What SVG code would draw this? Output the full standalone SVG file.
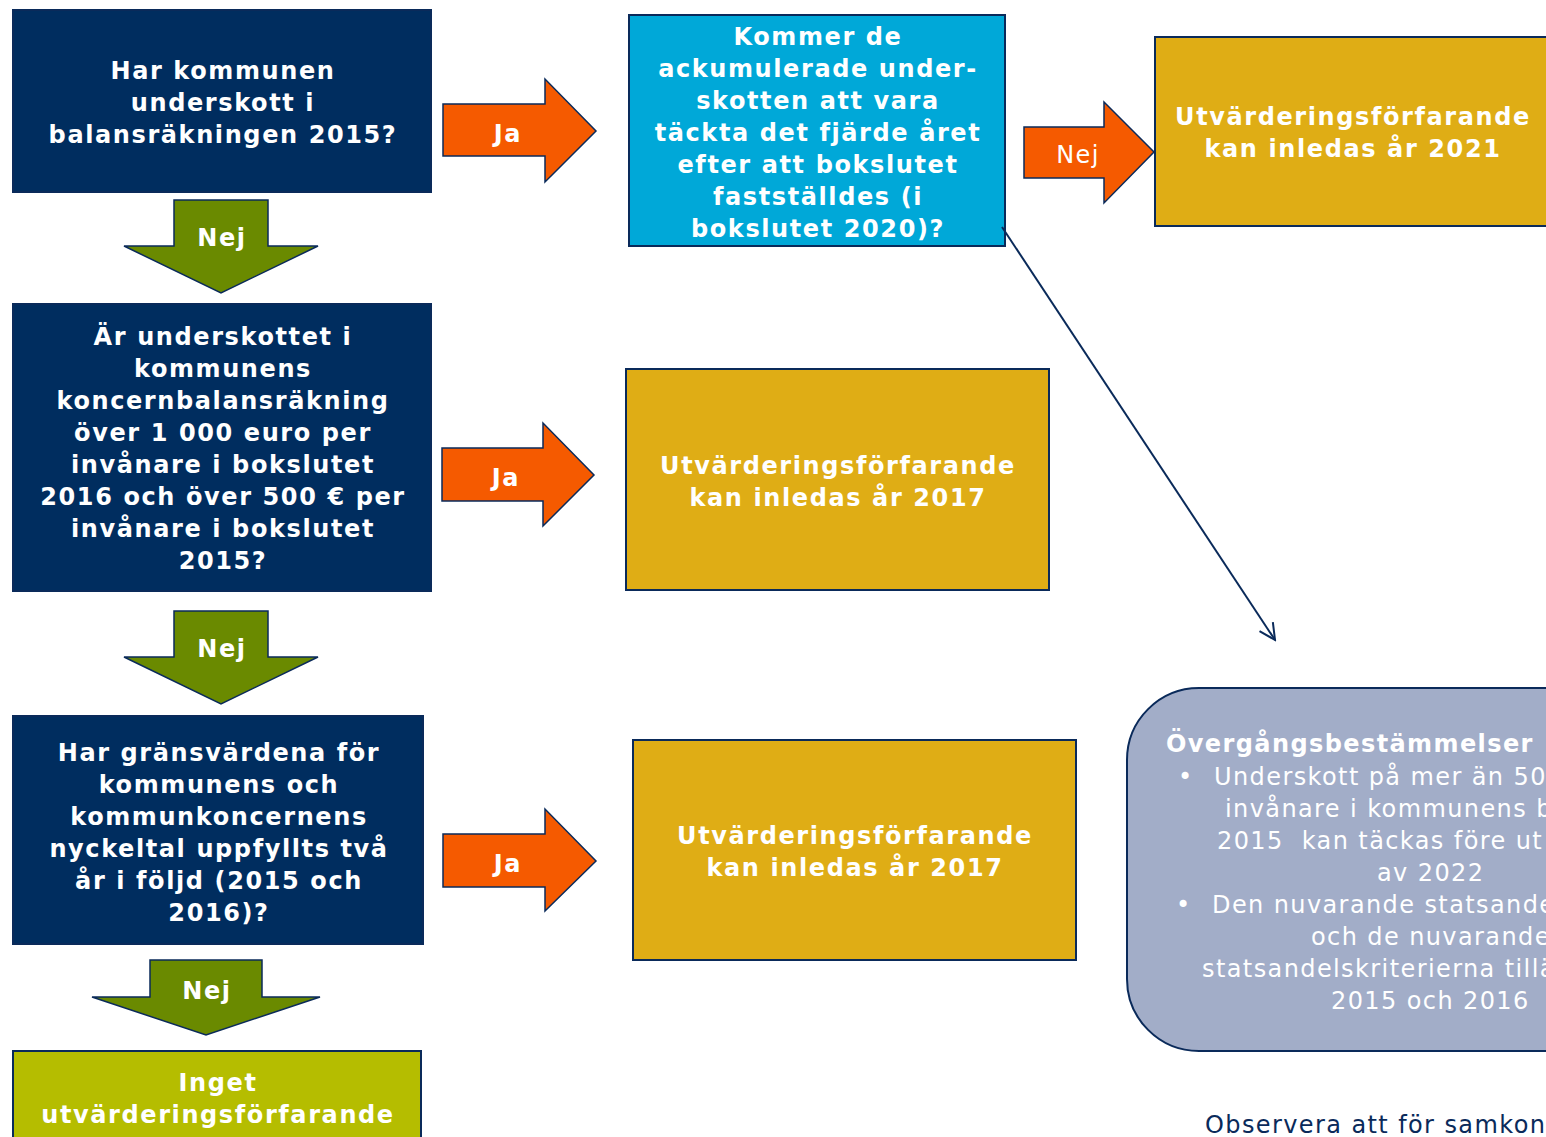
<svg xmlns="http://www.w3.org/2000/svg" width="1546" height="1137" viewBox="0 0 1546 1137">
<defs>
<style>
.t{font-family:"DejaVu Sans","Liberation Sans",sans-serif;font-size:24px;fill:#fff;text-anchor:middle;letter-spacing:1.4px}
.b{font-weight:bold;letter-spacing:1.6px}
.box{stroke:#0A2A5A;stroke-width:2}
.navy{fill:#002D5F}
.gold{fill:#DFAD15}
.arrowO{fill:#F55A00;stroke:#0A2A5A;stroke-width:1.5;stroke-linejoin:miter}
.arrowG{fill:#6A8A00;stroke:#0A2A5A;stroke-width:1.5}
.n{font-family:"DejaVu Sans","Liberation Sans",sans-serif;font-size:24px;fill:#fff;letter-spacing:1.4px}
</style>
<marker id="open" viewBox="0 0 20 20" refX="18" refY="10" markerWidth="20" markerHeight="20" markerUnits="userSpaceOnUse" orient="auto">
<path d="M2,2 L18,10 L2,18" fill="none" stroke="#0A2A5A" stroke-width="2"/>
</marker>
</defs>
<rect width="1546" height="1137" fill="#fff"/>

<g id="q1">
<rect class="box navy" x="13" y="10" width="418" height="182"/>
<text class="t b"><tspan x="223" y="79">Har kommunen</tspan><tspan x="223" y="111">underskott i</tspan><tspan x="223" y="143">balansräkningen 2015?</tspan></text>
</g>

<g id="q2">
<rect class="box navy" x="13" y="304" width="418" height="287"/>
<text class="t b"><tspan x="223" y="345">Är underskottet i</tspan><tspan x="223" y="377">kommunens</tspan><tspan x="223" y="409">koncernbalansräkning</tspan><tspan x="223" y="441">över 1 000 euro per</tspan><tspan x="223" y="473">invånare i bokslutet</tspan><tspan x="223" y="505">2016 och över 500 € per</tspan><tspan x="223" y="537">invånare i bokslutet</tspan><tspan x="223" y="569">2015?</tspan></text>
</g>

<g id="q3">
<rect class="box navy" x="13" y="716" width="410" height="228"/>
<text class="t b"><tspan x="219" y="761">Har gränsvärdena för</tspan><tspan x="219" y="793">kommunens och</tspan><tspan x="219" y="825">kommunkoncernens</tspan><tspan x="219" y="857">nyckeltal uppfyllts två</tspan><tspan x="219" y="889">år i följd (2015 och</tspan><tspan x="219" y="921">2016)?</tspan></text>
</g>

<g id="none">
<rect class="box" fill="#B5BD00" x="13" y="1051" width="408" height="100"/>
<text class="t b"><tspan x="218" y="1091">Inget</tspan><tspan x="218" y="1123">utvärderingsförfarande</tspan></text>
</g>

<g id="q4">
<rect class="box" fill="#00A8D8" x="629" y="15" width="376" height="231"/>
<text class="t b"><tspan x="818" y="45">Kommer de</tspan><tspan x="818" y="77">ackumulerade under-</tspan><tspan x="818" y="109">skotten att vara</tspan><tspan x="818" y="141">täckta det fjärde året</tspan><tspan x="818" y="173">efter att bokslutet</tspan><tspan x="818" y="205">fastställdes (i</tspan><tspan x="818" y="237">bokslutet 2020)?</tspan></text>
</g>

<g id="r2021">
<rect class="box gold" x="1155" y="37" width="400" height="189"/>
<text class="t b"><tspan x="1353" y="125">Utvärderingsförfarande</tspan><tspan x="1353" y="157">kan inledas år 2021</tspan></text>
</g>

<g id="r2017a">
<rect class="box gold" x="626" y="369" width="423" height="221"/>
<text class="t b"><tspan x="838" y="474">Utvärderingsförfarande</tspan><tspan x="838" y="506">kan inledas år 2017</tspan></text>
</g>

<g id="r2017b">
<rect class="box gold" x="633" y="740" width="443" height="220"/>
<text class="t b"><tspan x="855" y="844">Utvärderingsförfarande</tspan><tspan x="855" y="876">kan inledas år 2017</tspan></text>
</g>

<g id="transition">
<rect class="box" fill="#A2ADC8" x="1127" y="688" width="500" height="363" rx="72" ry="72"/>
<text class="n b" x="1166" y="752">Övergångsbestämmelser</text>
<text class="n" x="1178" y="785">•</text>
<text class="n" x="1214" y="785">Underskott på mer än 50</text>
<text class="n" x="1225" y="817">invånare i kommunens b</text>
<text class="n" x="1217" y="849" xml:space="preserve">2015  kan täckas före ut</text>
<text class="n" x="1377" y="881">av 2022</text>
<text class="n" x="1176" y="913">•</text>
<text class="n" x="1212" y="913">Den nuvarande statsande</text>
<text class="n" x="1311" y="945">och de nuvarande</text>
<text class="n" x="1202" y="977">statsandelskriterierna tillä</text>
<text class="n" x="1331" y="1009">2015 och 2016</text>
</g>

<g id="note">
<text class="n" style="fill:#0A2A5A" x="1205" y="1133">Observera att för samkon</text>
</g>

<g id="connectors">
<path class="arrowG" d="M174,200 H268 V246 H318 L221,293 L124,246 H174 Z"/>
<text class="t b" x="222" y="246">Nej</text>
<path class="arrowG" d="M174,611 H268 V657 H318 L221,704 L124,657 H174 Z"/>
<text class="t b" x="222" y="657">Nej</text>
<path class="arrowG" d="M150,960 H262 V997 H320 L206,1035 L92,997 H150 Z"/>
<text class="t b" x="207" y="999">Nej</text>

<path class="arrowO" d="M443,104 H545 V79 L596,131 L545,182 V156 H443 Z"/>
<text class="t b" x="508" y="142">Ja</text>
<path class="arrowO" d="M442,448 H543 V423 L594,475 L543,526 V501 H442 Z"/>
<text class="t b" x="506" y="486">Ja</text>
<path class="arrowO" d="M443,834 H545 V809 L596,861 L545,911 V887 H443 Z"/>
<text class="t b" x="508" y="872">Ja</text>
<path class="arrowO" d="M1024,127 H1104 V102 L1154,152 L1104,203 V178 H1024 Z"/>
<text class="t" x="1078" y="163">Nej</text>

<line x1="1002" y1="227" x2="1275" y2="640" stroke="#0A2A5A" stroke-width="2" marker-end="url(#open)"/>
</g>
</svg>
